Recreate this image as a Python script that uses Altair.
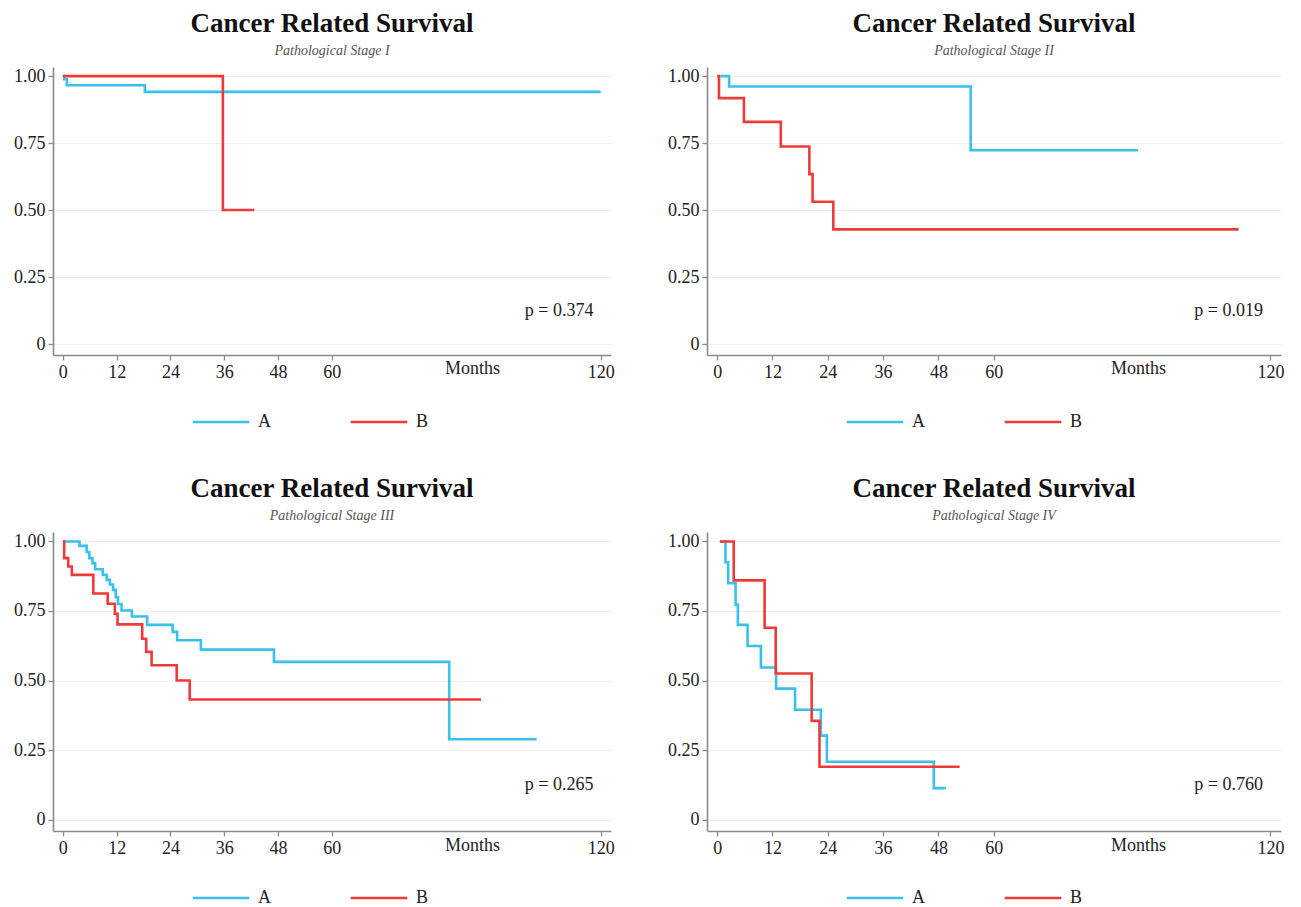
import altair as alt
import pandas as pd

# ---------------- data ----------------
stages = ["I", "II", "III", "IV"]
p_values = ["p = 0.374", "p = 0.019", "p = 0.265", "p = 0.760"]
groups = ["A", "B"]

s1_a_months = [0, 0.3, 0.9, 18.3, 120]
s1_a_surv = [1.0, 0.988, 0.966, 0.941, 0.941]
s1_b_months = [0, 35.7, 42.7]
s1_b_surv = [1.0, 0.5, 0.5]

s2_a_months = [0.7, 2.6, 55.0, 91.3]
s2_a_surv = [1.0, 0.961, 0.723, 0.723]
s2_b_months = [0, 0.4, 5.8, 13.8, 20.0, 20.7, 25.2, 113.1]
s2_b_surv = [1.0, 0.918, 0.829, 0.737, 0.634, 0.531, 0.428, 0.428]

s3_a_months = [0, 3.7, 5.3, 5.9, 6.6, 7.2, 8.9, 9.8, 10.5, 11.2, 11.8, 12.3,
               13.1, 15.4, 18.8, 24.5, 25.5, 30.8, 47.1, 86.2, 105.7]
s3_a_surv = [1.0, 0.984, 0.962, 0.94, 0.922, 0.90, 0.88, 0.862, 0.845, 0.826,
             0.80, 0.775, 0.752, 0.73, 0.70, 0.675, 0.645, 0.611, 0.567, 0.289, 0.289]
s3_b_months = [0, 0.3, 1.2, 2.0, 6.8, 10.0, 11.6, 12.2, 17.7, 18.6, 19.8, 25.4, 28.3, 93.3]
s3_b_surv = [1.0, 0.94, 0.91, 0.88, 0.813, 0.776, 0.74, 0.702, 0.65, 0.603, 0.555,
             0.50, 0.432, 0.432]

s4_a_months = [0.6, 1.8, 2.4, 4.0, 4.5, 6.6, 9.5, 12.8, 16.9, 22.5, 23.8, 47.0, 49.6]
s4_a_surv = [1.0, 0.925, 0.85, 0.773, 0.70, 0.624, 0.547, 0.471, 0.395, 0.302,
             0.208, 0.113, 0.113]
s4_b_months = [0.6, 3.6, 10.3, 12.7, 20.5, 22.2, 52.6]
s4_b_surv = [1.0, 0.86, 0.69, 0.525, 0.355, 0.19, 0.19]

x_ticks = [0, 12, 24, 36, 48, 60, 120]
y_ticks = [0, 0.25, 0.5, 0.75, 1.0]

series = [
    ((s1_a_months, s1_a_surv), (s1_b_months, s1_b_surv)),
    ((s2_a_months, s2_a_surv), (s2_b_months, s2_b_surv)),
    ((s3_a_months, s3_a_surv), (s3_b_months, s3_b_surv)),
    ((s4_a_months, s4_a_surv), (s4_b_months, s4_b_surv)),
]

CYAN = "#38C0EE"
RED = "#F03A3A"
FONT = "Liberation Serif"


def build_df(pair):
    rows = []
    for g, (ms, ss) in zip(groups, pair):
        for i, (m, s) in enumerate(zip(ms, ss)):
            rows.append({"group": g, "month": m, "surv": s, "order": i})
    return pd.DataFrame(rows)


def panel(idx, w, h):
    df = build_df(series[idx])
    xs = alt.Scale(domain=[-2.2, 122.3], nice=False, zero=False)
    ys = alt.Scale(domain=[-0.041, 1.034], nice=False, zero=False)
    lines = alt.Chart(df).mark_line(interpolate="step-after", strokeWidth=2.6).encode(
        x=alt.X("month:Q", scale=xs,
                axis=alt.Axis(values=x_ticks, title=None, grid=False, labelFlush=False)),
        y=alt.Y("surv:Q", scale=ys,
                axis=alt.Axis(values=y_ticks, title=None, grid=True,
                              labelExpr="datum.value == 0 ? '0' : format(datum.value, '.2f')")),
        color=alt.Color("group:N",
                        scale=alt.Scale(domain=groups, range=[CYAN, RED]),
                        legend=alt.Legend(orient="none", direction="horizontal", title=None,
                                          legendX=138, legendY=h + 37,
                                          symbolType="stroke", symbolSize=3200,
                                          symbolStrokeWidth=2.6, labelFont=FONT,
                                          labelFontSize=18, labelOffset=7,
                                          columnPadding=74, labelColor="#222")),
        order="order:Q",
    )
    ptxt = alt.Chart(pd.DataFrame({"month": [118.4], "surv": [0.125], "t": [p_values[idx]]})).mark_text(
        align="right", baseline="middle", font=FONT, fontSize=18, color="#222"
    ).encode(x=alt.X("month:Q", scale=xs), y=alt.Y("surv:Q", scale=ys), text="t:N")
    mtxt = alt.Chart(pd.DataFrame({"month": [91.4], "surv": [-0.095], "t": ["Months"]})).mark_text(
        align="center", baseline="middle", font=FONT, fontSize=18, color="#222"
    ).encode(x=alt.X("month:Q", scale=xs), y=alt.Y("surv:Q", scale=ys), text="t:N")
    return alt.layer(lines, ptxt, mtxt).properties(
        width=w, height=h,
        title=alt.TitleParams(
            text="Cancer Related Survival",
            subtitle=f"Pathological Stage {stages[idx]}",
            anchor="middle", font=FONT, fontSize=27, fontWeight="bold", color="#111",
            subtitleFont=FONT, subtitleFontSize=14, subtitleFontStyle="italic",
            subtitleColor="#555", subtitlePadding=6, offset=8,
        ),
    )


top = alt.hconcat(panel(0, 558, 288), panel(1, 574, 288), spacing=52).resolve_legend(color="independent").resolve_scale(color="independent")
bottom = alt.hconcat(panel(2, 558, 299), panel(3, 574, 299), spacing=52).resolve_legend(color="independent").resolve_scale(color="independent")
chart = alt.vconcat(top, bottom, spacing=44).resolve_legend(color="independent").resolve_scale(
    color="independent"
).configure_view(stroke=None).configure_axis(
    domainColor="#8a8a8a", domainWidth=1.6, tickColor="#8a8a8a", tickWidth=1.3,
    tickSize=5, labelFont=FONT, labelFontSize=18, labelColor="#222",
    labelPadding=3, gridColor="#f1f1f1", gridWidth=1,
).properties(background="white", padding={"left": 5, "top": 2, "right": 2, "bottom": 2})

chart.save("out.html", embed_options={"renderer": "svg", "actions": False})
